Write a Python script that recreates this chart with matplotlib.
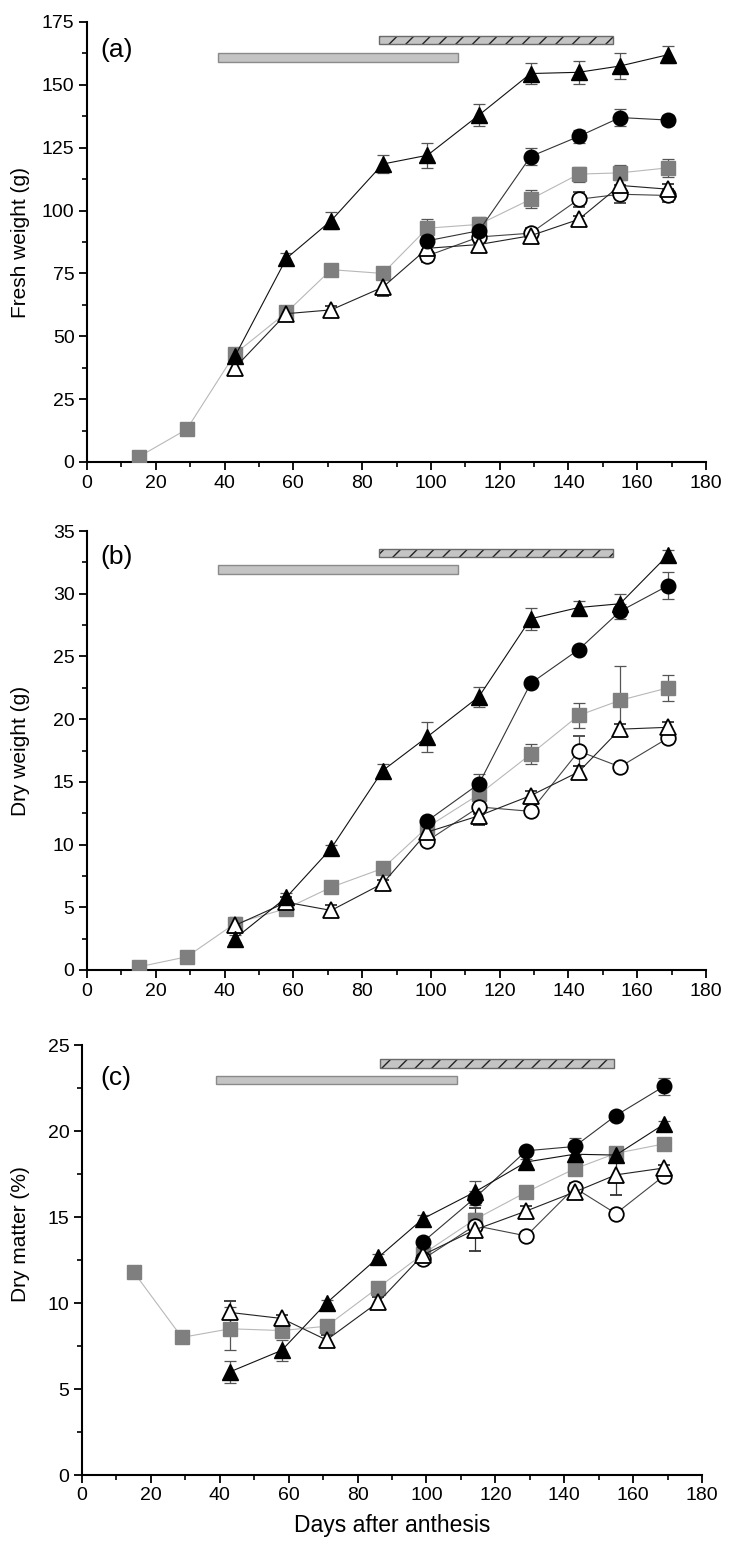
import numpy as np
import matplotlib
matplotlib.use("Agg")
import matplotlib.pyplot as plt
from matplotlib.patches import Rectangle
from matplotlib.ticker import MultipleLocator

nan = np.nan
days = [15, 29, 43, 58, 71, 86, 99, 114, 129, 143, 155, 169]

# Panel (a) fresh weight (g)
fw_sq = [2, 13, 43, 59.5, 76.5, 75, 93, 94.5, 104.5, 114.5, 115, 117]
fw_sq_err = [1.5, 2, 1.5, 1.5, 1.5, 2, 3.5, 3, 3.5, 3, 3, 3.5]
fw_tri_f = [nan, nan, 42, 81, 96, 118.5, 122, 138, 154.5, 155, 157.5, 162]
fw_tri_f_err = [nan, nan, 1.5, 2, 3.5, 3.5, 5, 4.5, 4, 4.5, 5, 3.5]
fw_cir_f = [nan, nan, nan, nan, nan, nan, 88, 92, 121.5, 129.5, 137, 136]
fw_cir_f_err = [nan, nan, nan, nan, nan, nan, 2, 2, 3.5, 2.5, 3.5, 2]
fw_tri_o = [nan, nan, 37.5, 59, 60.5, 69.5, 85, 86.5, 90, 96.5, 110, 108.5]
fw_tri_o_err = [nan, nan, 1.5, 1.5, 1.5, 3.5, 2, 2, 1.5, 1.5, 3, 2]
fw_cir_o = [nan, nan, nan, nan, nan, nan, 82, 89.5, 91, 104.5, 106.5, 106]
fw_cir_o_err = [nan, nan, nan, nan, nan, nan, 2.5, 2.5, 2, 3, 3.5, 2.5]

# Panel (b) dry weight (g)
dw_sq = [0.25, 1.05, 3.7, 4.9, 6.6, 8.1, 11.4, 14.0, 17.2, 20.3, 21.5, 22.5]
dw_sq_err = [0.2, 0.3, 0.5, 0.3, 0.4, 0.4, 0.4, 0.6, 0.8, 1.0, 2.7, 1.05]
dw_tri_f = [nan, nan, 2.5, 5.8, 9.7, 15.9, 18.6, 21.8, 28.0, 28.9, 29.2, 33.1]
dw_tri_f_err = [nan, nan, 0.3, 0.3, 0.3, 0.5, 1.2, 0.8, 0.9, 0.5, 0.8, 0.4]
dw_cir_f = [nan, nan, nan, nan, nan, nan, 11.9, 14.85, 22.85, 25.55, 28.6, 30.65]
dw_cir_f_err = [nan, nan, nan, nan, nan, nan, 0.3, 0.8, 0.3, 0.3, 0.6, 1.05]
dw_tri_o = [nan, nan, 3.55, 5.4, 4.75, 6.9, 11.0, 12.3, 13.9, 15.8, 19.2, 19.35]
dw_tri_o_err = [nan, nan, 0.6, 0.4, 0.4, 0.3, 0.4, 0.7, 0.4, 0.5, 0.4, 0.4]
dw_cir_o = [nan, nan, nan, nan, nan, nan, 10.3, 13.0, 12.65, 17.45, 16.2, 18.5]
dw_cir_o_err = [nan, nan, nan, nan, nan, nan, 0.3, 0.6, 0.3, 1.2, 0.3, 0.4]

# Panel (c) dry matter (%)
dm_sq = [11.8, 8.0, 8.5, 8.4, 8.65, 10.9, 12.85, 14.85, 16.45, 17.8, 18.7, 19.25]
dm_sq_err = [0.2, 0.25, 1.25, 0.3, 0.35, 0.35, 0.3, 0.4, 0.3, 0.3, 0.3, 0.2]
dm_tri_f = [nan, nan, 6.0, 7.25, 10.0, 12.65, 14.9, 16.45, 18.2, 18.65, 18.6, 20.4]
dm_tri_f_err = [nan, nan, 0.65, 0.6, 0.2, 0.2, 0.2, 0.65, 0.2, 0.2, 0.2, 0.2]
dm_cir_f = [nan, nan, nan, nan, nan, nan, 13.55, 16.1, 18.85, 19.1, 20.9, 22.6]
dm_cir_f_err = [nan, nan, nan, nan, nan, nan, 0.2, 0.4, 0.2, 0.5, 0.2, 0.5]
dm_tri_o = [nan, nan, 9.45, 9.1, 7.85, 10.05, 12.8, 14.25, 15.35, 16.45, 17.45, 17.85]
dm_tri_o_err = [nan, nan, 0.65, 0.2, 0.3, 0.3, 0.3, 1.25, 0.3, 0.3, 1.15, 0.2]
dm_cir_o = [nan, nan, nan, nan, nan, nan, 12.55, 14.5, 13.9, 16.7, 15.2, 17.4]
dm_cir_o_err = [nan, nan, nan, nan, nan, nan, 0.2, 0.4, 0.2, 0.3, 0.2, 0.3]

# period bars (days)
solid_period_ab = [38, 108]
hatch_period_ab = [85, 153]
solid_period_c = [39, 109]
hatch_period_c = [86.5, 154.5]

panel_labels = ["(a)", "(b)", "(c)"]
y_labels = ["Fresh weight (g)", "Dry weight (g)", "Dry matter (%)"]
x_label = "Days after anthesis"

NARROW = ["Liberation Sans Narrow", "Liberation Sans", "DejaVu Sans"]
REG = ["Liberation Sans", "DejaVu Sans"]
plt.rcParams["hatch.linewidth"] = 1.0

fig = plt.figure(figsize=(7.33, 15.52), dpi=100)
W, H = 733, 1552
boxes = [(87, 706, 22, 462), (87, 706, 531, 970), (82, 702, 1045, 1475)]

panels = [
    dict(sq=(fw_sq, fw_sq_err), tf=(fw_tri_f, fw_tri_f_err), cf=(fw_cir_f, fw_cir_f_err),
         to=(fw_tri_o, fw_tri_o_err), co=(fw_cir_o, fw_cir_o_err),
         ymax=175, major=25, minor=12.5, solid=solid_period_ab, hatch=hatch_period_ab,
         sy=(159.0, 162.5), hy=(166.1, 169.4), ly=0.936, yl=0.5),
    dict(sq=(dw_sq, dw_sq_err), tf=(dw_tri_f, dw_tri_f_err), cf=(dw_cir_f, dw_cir_f_err),
         to=(dw_tri_o, dw_tri_o_err), co=(dw_cir_o, dw_cir_o_err),
         ymax=35, major=5, minor=2.5, solid=solid_period_ab, hatch=hatch_period_ab,
         sy=(31.55, 32.3), hy=(32.95, 33.6), ly=0.94, yl=0.5),
    dict(sq=(dm_sq, dm_sq_err), tf=(dm_tri_f, dm_tri_f_err), cf=(dm_cir_f, dm_cir_f_err),
         to=(dm_tri_o, dm_tri_o_err), co=(dm_cir_o, dm_cir_o_err),
         ymax=25, major=5, minor=2.5, solid=solid_period_c, hatch=hatch_period_c,
         sy=(22.75, 23.2), hy=(23.65, 24.17), ly=0.923, yl=0.56),
]

for i, (p, (x0, x1, y0, y1)) in enumerate(zip(panels, boxes)):
    ax = fig.add_axes([x0 / W, 1 - y1 / H, (x1 - x0) / W, (y1 - y0) / H])
    ax.set_xlim(0, 180)
    ax.set_ylim(0, p["ymax"])
    for s in ["top", "right"]:
        ax.spines[s].set_visible(False)
    for s in ["left", "bottom"]:
        ax.spines[s].set_linewidth(1.5)
    ax.xaxis.set_major_locator(MultipleLocator(20))
    ax.xaxis.set_minor_locator(MultipleLocator(10))
    ax.yaxis.set_major_locator(MultipleLocator(p["major"]))
    ax.yaxis.set_minor_locator(MultipleLocator(p["minor"]))
    ax.tick_params(which="major", direction="out", length=6, width=1.3, pad=3)
    ax.tick_params(which="minor", direction="out", length=3.5, width=1.2)
    for lab in ax.get_xticklabels() + ax.get_yticklabels():
        lab.set_family(NARROW)
        lab.set_fontsize(14)

    # period bars
    s0, s1 = p["solid"]
    ax.add_patch(Rectangle((s0, p["sy"][0]), s1 - s0, p["sy"][1] - p["sy"][0],
                           facecolor="#c4c4c4", edgecolor="#8a8a8a", lw=1.0, zorder=2))
    h0, h1 = p["hatch"]
    ax.add_patch(Rectangle((h0, p["hy"][0]), h1 - h0, p["hy"][1] - p["hy"][0],
                           facecolor="#c4c4c4", edgecolor="#222222", hatch="//", lw=0, zorder=2))
    ax.add_patch(Rectangle((h0, p["hy"][0]), h1 - h0, p["hy"][1] - p["hy"][0],
                           facecolor="none", edgecolor="#6a6a6a", lw=1.0, zorder=2.1))

    common = dict(capsize=4.5, elinewidth=0.9, capthick=0.9, lw=0.8, zorder=3)
    v, e = p["sq"]
    ax.errorbar(days, v, yerr=e, fmt="-s", color="#b8b8b8", ecolor="#555555",
                mfc="#7f7f7f", mec="#7f7f7f", ms=9.5, **common)
    v, e = p["co"]
    ax.errorbar(days, v, yerr=e, fmt="-o", color="#444444", ecolor="#444444",
                mfc="white", mec="black", mew=1.3, ms=10.5, **common)
    v, e = p["to"]
    ax.errorbar(days, v, yerr=e, fmt="-^", color="#222222", ecolor="#333333",
                mfc="white", mec="black", mew=1.3, ms=11.5, **common)
    v, e = p["cf"]
    ax.errorbar(days, v, yerr=e, fmt="-o", color="#333333", ecolor="#555555",
                mfc="black", mec="black", ms=10.5, **common)
    v, e = p["tf"]
    ax.errorbar(days, v, yerr=e, fmt="-^", color="#111111", ecolor="#555555",
                mfc="black", mec="black", ms=11.5, **common)

    ax.text(0.021 if i < 2 else 0.03, p["ly"], panel_labels[i], transform=ax.transAxes,
            ha="left", va="center", fontsize=19, family=NARROW)
    ax.set_ylabel(y_labels[i], fontsize=15, family=REG)
    lx = (30 - x0) / (x1 - x0)
    ax.yaxis.set_label_coords(lx, p["yl"])
    if i == 2:
        ax.set_xlabel(x_label, fontsize=16.5, family=NARROW, labelpad=7)

fig.savefig("out.png", dpi=100)
